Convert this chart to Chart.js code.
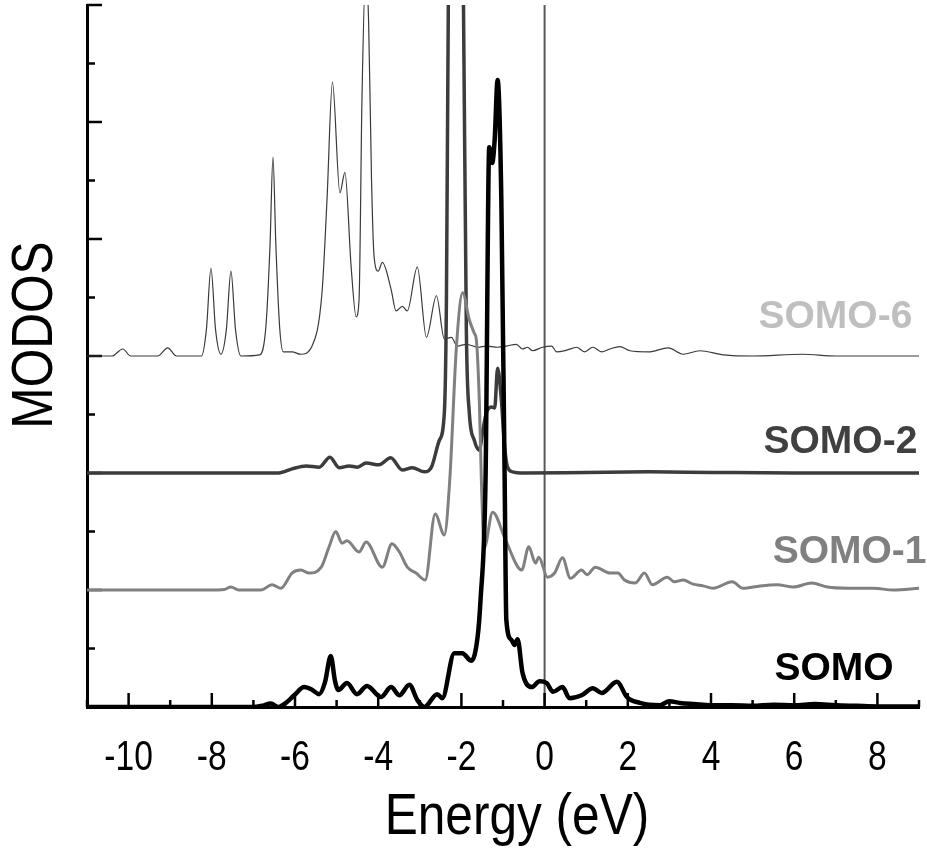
<!DOCTYPE html>
<html>
<head>
<meta charset="utf-8">
<script src="https://cdn.jsdelivr.net/npm/chart.js@4.4.0/dist/chart.umd.min.js"></script>
<style>
  html, body { margin: 0; padding: 0; background: #fff; }
</style>
</head>
<body>
<canvas id="dos" width="927" height="850"></canvas>
<script>
// ── MODOS per orbital (energy eV, DOS above own baseline) ──
const names = ['SOMO', 'SOMO-1', 'SOMO-2', 'SOMO-6'];
const offsets = [0, 2, 4, 6];
const xTicks = [-10, -8, -6, -4, -2, 0, 2, 4, 6, 8];

const somo = [
  [-11,0],[-7.0,0],[-6.8,0.02],[-6.58,0.06],[-6.4,0],[-6.2,0.08],[-6.02,0.2],[-5.78,0.34],[-5.6,0.3],
  [-5.42,0.22],[-5.28,0.42],[-5.14,0.87],[-5.04,0.45],[-4.96,0.29],[-4.75,0.41],[-4.51,0.22],[-4.27,0.36],
  [-3.93,0.17],[-3.69,0.34],[-3.49,0.2],[-3.25,0.38],[-3.06,0.12],[-2.89,0],[-2.58,0.22],[-2.46,0.15],
  [-2.17,0.92],[-1.98,0.92],[-1.76,0.79],[-1.61,1.2],[-1.54,1.83],[-1.42,3.88],[-1.33,9.57],[-1.26,9.3],
  [-1.2,9.7],[-1.13,10.72],[-1.04,8.67],[-0.96,3.88],[-0.92,1.49],[-0.8,1.15],[-0.72,1.06],[-0.65,1.16],
  [-0.53,0.58],[-0.31,0.34],[-0.12,0.44],[0.05,0.41],[0.2,0.26],[0.43,0.34],[0.6,0.15],[0.89,0.2],
  [1.16,0.32],[1.37,0.24],[1.74,0.43],[1.98,0.17],[2.29,0.07],[2.77,0.03],[3.0,0.1],[3.25,0.07],[3.6,0.05],
  [4.0,0.03],[4.5,0.03],[5.0,0.02],[5.5,0.04],[6.0,0.03],[6.5,0.05],[7.0,0.03],[7.5,0.02],[8.0,0.01],[9.0,0.01]
];
const somo1 = [
  [-11,0],[-8.07,0],[-7.7,0.01],[-7.54,0.05],[-7.35,0],[-6.82,0],[-6.55,0.09],[-6.34,0.03],[-6.07,0.29],
  [-5.86,0.34],[-5.66,0.29],[-5.37,0.39],[-5.18,0.74],[-5.02,1.0],[-4.87,0.8],[-4.75,0.84],[-4.46,0.65],
  [-4.29,0.82],[-3.9,0.39],[-3.67,0.79],[-3.49,0.65],[-3.3,0.39],[-3.09,0.29],[-2.87,0.17],[-2.63,1.3],
  [-2.41,0.94],[-2.28,1.88],[-2.12,4.15],[-1.97,5.08],[-1.81,4.62],[-1.69,4.39],[-1.64,4.27],[-1.57,3.25],
  [-1.52,1.88],[-1.45,0.72],[-1.25,1.33],[-0.92,0.82],[-0.55,0.34],[-0.38,0.74],[-0.22,0.46],[-0.14,0.56],
  [0.07,0.22],[0.24,0.29],[0.43,0.55],[0.62,0.2],[0.89,0.34],[1.02,0.26],[1.22,0.39],[1.57,0.29],[1.76,0.29],
  [1.92,0.17],[2.18,0.12],[2.4,0.29],[2.59,0.09],[2.95,0.22],[3.12,0.14],[3.33,0.17],[3.57,0.1],[3.81,0.07],
  [4.05,0.03],[4.51,0.14],[4.77,0.03],[5.18,0.07],[5.59,0.09],[5.98,0.05],[6.42,0.12],[6.8,0.05],[7.28,0.03],
  [7.9,0.03],[8.39,0],[9,0.03]
];
const somo2 = [
  [-11,0],[-6.39,0],[-6.07,0.07],[-5.73,0.12],[-5.42,0.1],[-5.16,0.27],[-4.94,0.09],[-4.7,0.12],[-4.5,0.1],
  [-4.29,0.17],[-3.98,0.14],[-3.7,0.26],[-3.42,0.05],[-3.18,0.09],[-2.89,0.02],[-2.72,0.1],[-2.53,0.56],
  [-2.41,1.03],[-2.36,2.95],[-2.31,8.5],[-2.25,11.5],[-2.13,12.5],[-2.02,11.5],[-1.95,8.0],[-1.88,2.39],
  [-1.81,1.03],[-1.69,0.56],[-1.57,0.39],[-1.48,0.75],[-1.4,1.03],[-1.28,1.13],[-1.2,1.11],[-1.13,1.79],
  [-1.04,1.25],[-0.96,0.44],[-0.89,0.1],[-0.77,0.02],[-0.5,0],[1.0,0.01],[2.5,0.02],[4,0.01],[6,0],[9,0]
];
const somo6 = [
  [-11,0],[-10.4,0],[-10.14,0.12],[-9.95,0],[-9.3,0],[-9.06,0.14],[-8.85,0],[-8.25,0],[-8.13,0.45],
  [-8.02,1.5],[-7.91,0.45],[-7.78,0.03],[-7.65,0.45],[-7.54,1.45],[-7.43,0.45],[-7.3,0],[-6.85,0.02],
  [-6.7,0.5],[-6.6,1.9],[-6.53,3.4],[-6.46,1.9],[-6.37,0.5],[-6.28,0.07],[-6.07,0.07],[-5.86,0.03],
  [-5.59,0.17],[-5.35,1.09],[-5.23,2.68],[-5.1,4.68],[-4.92,2.79],[-4.8,3.14],[-4.65,1.52],[-4.53,0.67],
  [-4.46,0.97],[-4.39,4.4],[-4.3,6.6],[-4.23,5.7],[-4.16,3.0],[-4.1,1.71],[-4.0,1.45],[-3.9,1.6],
  [-3.69,1.14],[-3.57,0.77],[-3.42,0.85],[-3.3,0.77],[-3.06,1.52],[-2.84,0.32],[-2.6,1.03],[-2.41,0.29],
  [-2.24,0.32],[-2.1,0.17],[-1.88,0.2],[-1.6,0.15],[-1.4,0.17],[-1.13,0.15],[-0.92,0.17],[-0.68,0.2],
  [-0.53,0.12],[-0.41,0.15],[-0.29,0.09],[-0.05,0.15],[0.17,0.17],[0.29,0.07],[0.53,0.1],[0.77,0.15],
  [0.96,0.07],[1.16,0.15],[1.37,0.07],[1.57,0.12],[1.81,0.16],[2.05,0.09],[2.5,0.07],[2.97,0.14],
  [3.33,0.03],[3.73,0.09],[4.3,0.02],[5.0,0],[6.2,0.03],[7.0,0],[9.0,0]
];
const series = [somo, somo1, somo2, somo6];

const lineColors = ['#000000', '#808080', '#3c3c3c', '#3a3a3a'];
const lineWidths = [4.5, 3, 3.5, 1.2];
const labelColors = ['#000000', '#808080', '#404040', '#bfbfbf'];
const SANS = '"Liberation Sans", Arial, sans-serif';

// the axis text in the figure is a narrow face: squeeze Liberation Sans sideways
function narrowText(ctx, str, x, y, size, squeeze, angle) {
  ctx.save();
  ctx.translate(x, y);
  if (angle) ctx.rotate(angle);
  ctx.scale(squeeze, 1);
  ctx.font = size + 'px ' + SANS;
  ctx.textAlign = 'center';
  ctx.textBaseline = 'alphabetic';
  ctx.fillText(str, 0, 0);
  ctx.restore();
}

// inward ticks, the Fermi line, tick labels, curve labels and axis titles
const decor = {
  id: 'decor',
  beforeDatasetsDraw(chart) {
    const { ctx, chartArea: a, scales: { x, y } } = chart;
    ctx.save();
    ctx.strokeStyle = '#5a5a5a';
    ctx.lineWidth = 2;
    const x0 = x.getPixelForValue(0);
    ctx.beginPath(); ctx.moveTo(x0, a.top); ctx.lineTo(x0, a.bottom); ctx.stroke();

    ctx.strokeStyle = '#000';
    ctx.lineWidth = 2.5;
    for (let v = x.min; v <= x.max; v++) {
      const px = x.getPixelForValue(v), len = v % 2 === 0 ? 14 : 7;
      ctx.beginPath(); ctx.moveTo(px, a.bottom); ctx.lineTo(px, a.bottom - len); ctx.stroke();
    }
    for (let v = y.min; v <= y.max; v++) {
      const py = y.getPixelForValue(v), len = v % 2 === 0 ? 15 : 8;
      ctx.beginPath(); ctx.moveTo(a.left, py); ctx.lineTo(a.left + len, py); ctx.stroke();
    }
    ctx.restore();
  },
  afterDraw(chart) {
    const { ctx, chartArea: a, scales: { x, y } } = chart;
    ctx.save();
    ctx.fillStyle = '#000';
    x.ticks.forEach(t => narrowText(ctx, String(t.value), x.getPixelForValue(t.value), a.bottom + 63, 42, 0.8));

    // curve names, right aligned near each baseline
    const spots = [[8.39, 0.46], [9.18, 2.46], [8.96, 4.34], [8.84, 6.48]];
    ctx.font = 'bold 39px ' + SANS;
    ctx.textAlign = 'right';
    ctx.textBaseline = 'alphabetic';
    names.forEach((n, i) => {
      ctx.fillStyle = labelColors[i];
      ctx.fillText(n, x.getPixelForValue(spots[i][0]), y.getPixelForValue(spots[i][1]));
    });

    ctx.fillStyle = '#000';
    narrowText(ctx, 'Energy (eV)', 517, 834, 57, 0.87);
    narrowText(ctx, 'MODOS', 52, 335, 57, 0.87, -Math.PI / 2);
    ctx.restore();
  }
};

new Chart(document.getElementById('dos'), {
  type: 'line',
  data: {
    datasets: names.map((n, i) => ({
      label: n,
      data: series[i].map(([e, v]) => ({ x: e, y: v + offsets[i] })),
      borderColor: lineColors[i],
      borderWidth: lineWidths[i],
      pointRadius: 0,
      fill: false,
      cubicInterpolationMode: 'monotone'
    }))
  },
  options: {
    responsive: false,
    animation: false,
    events: [],
    layout: { padding: { top: 5, right: 8, left: 0, bottom: 0 } },
    plugins: { legend: { display: false }, tooltip: { enabled: false } },
    scales: {
      x: {
        type: 'linear', min: -11, max: 9,
        afterBuildTicks: s => { s.ticks = xTicks.map(v => ({ value: v })); },
        afterFit: s => { s.height = 143; },
        grid: { display: false },
        border: { color: '#000', width: 3 },
        ticks: { display: false }
      },
      y: {
        min: 0, max: 12,
        afterFit: s => { s.width = 87; },
        grid: { display: false },
        border: { color: '#000', width: 3 },
        ticks: { display: false }
      }
    }
  },
  plugins: [decor]
});
</script>
</body>
</html>
